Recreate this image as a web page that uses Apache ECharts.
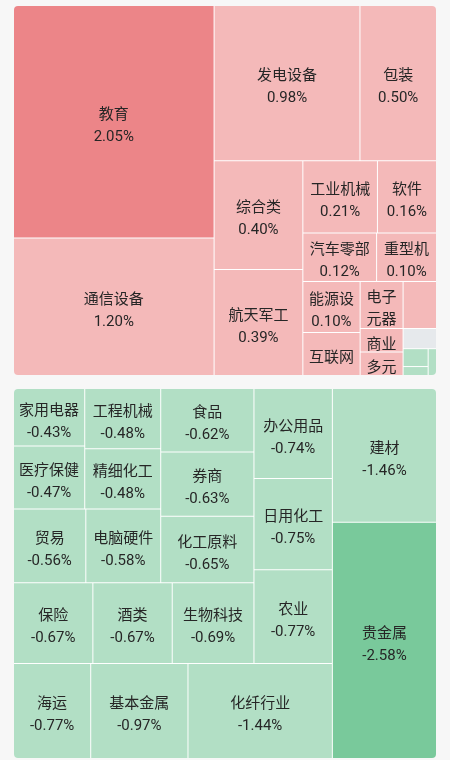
<!DOCTYPE html>
<html>
<head>
<meta charset="utf-8">
<script src="https://cdn.jsdelivr.net/npm/echarts@6/dist/echarts.min.js"></script>
<style>
  html, body { margin: 0; padding: 0; width: 450px; height: 760px; background: #f7f7f7; overflow: hidden; }
  .box { position: absolute; left: 14px; width: 422px; height: 369px; border-radius: 4px; overflow: hidden; background: #fff; }
  #up { top: 6px; }
  #down { top: 389px; transform: rotate(180deg); }
</style>
</head>
<body>
<div id="up" class="box"></div>
<div id="down" class="box"></div>
<script>
// ---- data: rising sectors (top map) ----
const gainNames = ['教育', '通信设备', '发电设备', '包装', '综合类', '航天军工', '工业机械', '软件', '汽车零部', '重型机',
                   '能源设', '互联网', '电子元器', '商业', '多元', '', '', '', '', ''];
const gainPct   = [2.05, 1.20, 0.98, 0.50, 0.40, 0.39, 0.21, 0.16, 0.12, 0.10,
                   0.10, 0.08, 0.06, 0.02, 0.01, 0.04, 0.00, -0.01, -0.02, -0.02];
const gainSize  = [2.08, 1.23, 1.01, 0.53, 0.43, 0.42, 0.24, 0.19, 0.16, 0.13,
                   0.13, 0.11, 0.09, 0.045, 0.045, 0.07, 0.03, 0.02, 0.01, 0.01];

// ---- data: falling sectors (bottom map) ----
const lossNames = ['贵金属', '建材', '化纤行业', '基本金属', '海运', '农业', '日用化工', '办公用品', '生物科技', '酒类',
                   '保险', '化工原料', '券商', '食品', '电脑硬件', '贸易', '精细化工', '工程机械', '医疗保健', '家用电器'];
const lossPct   = [-2.58, -1.46, -1.44, -0.97, -0.77, -0.77, -0.75, -0.74, -0.69, -0.67,
                   -0.67, -0.65, -0.63, -0.62, -0.58, -0.56, -0.48, -0.48, -0.47, -0.43];

// grouping of cells into strips (treemap nesting), by item index
const gainStrips = [[0, 1], [2, 3], [4, 5], [6, 7], [8, 9]];
const gainTail   = [[[10, 11], [12, 13, 14]], [15, 16, [17, 18], 19]];
const lossStrips = [[0, 1], [2, 3, 4], [5, 6, 7], [8, 9, 10], [11, 12, 13], [14, 15]];
const lossTail   = [16, 17, 18, 19];

const FONT = 'Roboto, "Noto Sans CJK SC", "Noto Sans", sans-serif';

function tone(p) {
  if (p >= 2) return '#ec8588';
  if (p > 0) return '#f4b9b9';
  if (p === 0) return '#e6e9ec';
  if (p > -2) return '#b2dfc5';
  return '#79c99b';
}

function buildTree(names, pct, size, strips, tail) {
  const leaf = i => ({ name: names[i], value: size[i], pct: pct[i], itemStyle: { color: tone(pct[i]) } });
  const node = spec => typeof spec === 'number'
    ? leaf(spec)
    : { name: '', children: spec.map(node), itemStyle: { color: '#fff' } };
  let nest = tail;
  for (let k = strips.length - 1; k >= 0; k--) nest = [strips[k], nest];
  return nest.map(node);
}

function formatter(p) {
  if (!p.name || !p.data) return '';
  const v = p.data.pct;
  return p.name + (v != null ? '\n' + v.toFixed(2) + '%' : '');
}

function makeOption(data, rotate) {
  return {
    animation: false,
    series: [{
      type: 'treemap',
      left: 0, top: 0, width: '100%', height: '100%',
      sort: false,
      squareRatio: 1,
      roam: false,
      nodeClick: false,
      visibleMin: 1,
      breadcrumb: { show: false },
      itemStyle: { borderWidth: 0, gapWidth: 1, borderColor: '#fff', color: '#fff' },
      upperLabel: { show: false },
      label: {
        show: true,
        position: 'inside',
        rotate: rotate,
        offset: [0, 4.5],
        padding: [0, 2],
        overflow: 'break',
        color: '#262626',
        fontSize: 15,
        lineHeight: 22,
        fontFamily: FONT,
        formatter: formatter
      },
      data: data
    }]
  };
}

const gainData = buildTree(gainNames, gainPct, gainSize, gainStrips, gainTail);
const lossData = buildTree(lossNames, lossPct, lossPct.map(Math.abs), lossStrips, lossTail);

const upChart = echarts.init(document.getElementById('up'), null, { renderer: 'canvas' });
upChart.setOption(makeOption(gainData, 0));
const downChart = echarts.init(document.getElementById('down'), null, { renderer: 'canvas' });
downChart.setOption(makeOption(lossData, 180));
</script>
</body>
</html>
